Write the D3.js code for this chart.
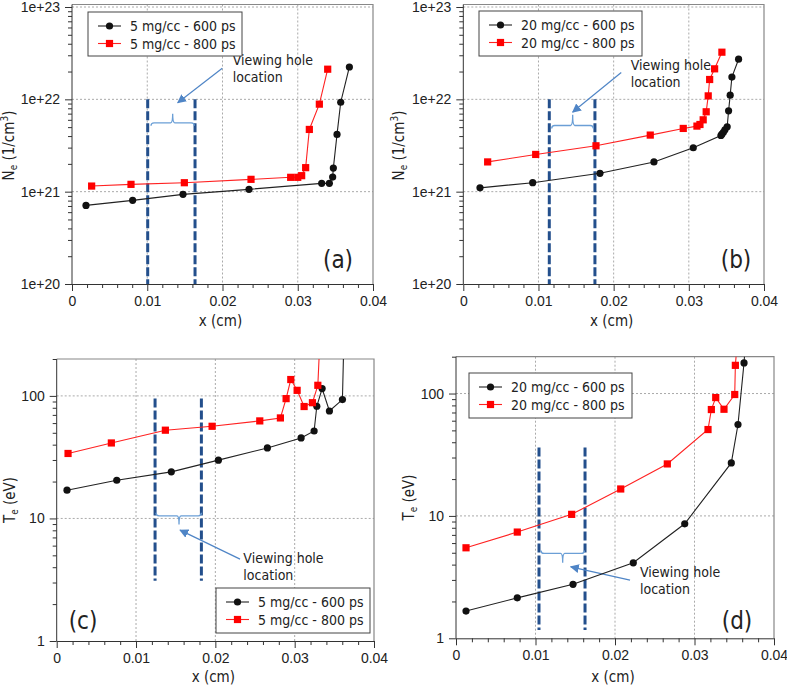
<!DOCTYPE html>
<html lang="en">
<head>
  <meta charset="UTF-8">
  <title></title>
  <style>
    html, body {
      margin: 0;
      background: #fff;
      overflow: hidden;
    }
    svg {
      display: block;
      font-family: "DejaVu Sans Condensed", "Liberation Sans", sans-serif;
    }
    .grid line { stroke: #aaa; stroke-dasharray: 2,2; }
    .axis path, .axis line { stroke: #333; }
    .axis text { fill: #222; font-size: 14px; font-family: inherit; }
  </style>
</head>
<body>
  <svg width="787" height="686"></svg>
</body>
<script src="https://d3js.org/d3.v7.min.js"></script>
<script type="text/javascript">
  const xTicks = [0, 0.01, 0.02, 0.03, 0.04]
  const neTicks = [1e20, 1e21, 1e22, 1e23]
  const teTicks = [1, 10, 100]

  // (a) electron density, 5 mg/cc
  const aX600 = [0.00186, 0.00806, 0.01475, 0.02352, 0.03318, 0.0342, 0.03464, 0.03473, 0.03522, 0.03571, 0.03686]
  const aNe600 = [7.1e20, 8.05e20, 9.35e20, 1.06e21, 1.23e21, 1.23e21, 1.44e21, 1.8e21, 4.17e21, 9.3e21, 2.24e22]
  const aX800 = [0.00261, 0.00784, 0.01493, 0.02379, 0.02906, 0.03, 0.03052, 0.03105, 0.03154, 0.03287, 0.03398]
  const aNe800 = [1.15e21, 1.2e21, 1.25e21, 1.36e21, 1.43e21, 1.43e21, 1.49e21, 1.82e21, 4.72e21, 8.87e21, 2.12e22]

  // (b) electron density, 20 mg/cc
  const bX600 = [0.00222, 0.00923, 0.01818, 0.02536, 0.03059, 0.03427, 0.0344, 0.0346, 0.0348, 0.0351, 0.03529, 0.0355, 0.03573, 0.03662]
  const bNe600 = [1.1e21, 1.25e21, 1.58e21, 2.1e21, 2.99e21, 4.06e21, 4.19e21, 4.4e21, 4.68e21, 5.05e21, 7.5e21, 1.11e22, 1.74e22, 2.72e22]
  const bX800 = [0.00324, 0.00963, 0.01765, 0.02487, 0.02926, 0.03108, 0.03148, 0.03191, 0.03231, 0.03258, 0.03277, 0.03343, 0.0344]
  const bNe800 = [2.1e21, 2.53e21, 3.14e21, 4.1e21, 4.84e21, 5.13e21, 5.34e21, 6.0e21, 7.33e21, 1.09e22, 1.64e22, 2.14e22, 3.24e22]

  // (c) electron temperature, 5 mg/cc (last point is off scale)
  const cX600 = [0.0013, 0.00757, 0.01445, 0.02038, 0.02656, 0.03081, 0.03245, 0.03279, 0.03346, 0.03438, 0.03602, 0.0364]
  const cTe600 = [17.0, 20.5, 24.0, 29.9, 37.6, 45.4, 51.7, 82.3, 114.7, 75.3, 93.3, 1000]
  const cX800 = [0.00143, 0.00689, 0.0137, 0.01959, 0.0256, 0.0282, 0.02892, 0.02951, 0.03031, 0.03119, 0.03224, 0.03292, 0.0334]
  const cTe800 = [33.9, 41.3, 52.5, 56.5, 62.5, 66.1, 95, 136, 111, 81.9, 88, 122, 600]

  // (d) electron temperature, 20 mg/cc (last point is off scale)
  const dX600 = [0.00126, 0.00771, 0.01472, 0.0223, 0.02877, 0.03463, 0.03547, 0.03623, 0.0368]
  const dTe600 = [1.67, 2.14, 2.76, 4.14, 8.62, 27.1, 55.8, 178, 600]
  const dX800 = [0.00126, 0.00771, 0.01455, 0.02072, 0.02658, 0.0317, 0.03212, 0.03267, 0.03371, 0.03506, 0.03514, 0.0356]
  const dTe800 = [5.49, 7.38, 10.3, 16.6, 26.6, 50.8, 74, 92.7, 74.4, 98.2, 170, 400]

  const panels = [
    { tag: '(a)', left: 72, right: 373, top: 7, bottom: 284, pad: 2.5, yDomain: [1e20, 1e23], yTicks: neTicks,
      yVar: 'N', yUnit: ' (1/cm', ySup: '3', yTail: ')', yLabelX: 14, xLabelY: 326,
      x600: aX600, y600: aNe600, x800: aX800, y800: aNe800, leg: '5 mg/cc',
      legBox: [88, 12, 154, 44], tagPos: [338, 268],
      hole: { x: [0.01006, 0.01635], y: [1e22, 1e20], bx: [0.0105, 0.01625, 0.01338], by: [5.57e21, 6.96e21],
              arrow: [0.01997, 2.17e22, 0.01405, 9.2e21], text: [0.02136, 2.36e22] } },
    { tag: '(b)', left: 463.3, right: 764, top: 7, bottom: 284, pad: 2.5, yDomain: [1e20, 1e23], yTicks: neTicks,
      yVar: 'N', yUnit: ' (1/cm', ySup: '3', yTail: ')', yLabelX: 404, xLabelY: 326,
      x600: bX600, y600: bNe600, x800: bX800, y800: bNe800, leg: '20 mg/cc',
      legBox: [479, 11, 163, 45], tagPos: [736, 268],
      hole: { x: [0.01144, 0.01751], y: [1e22, 1e20], bx: [0.01176, 0.01729, 0.01455], by: [5.21e21, 6.79e21],
              arrow: [0.02101, 1.95e22, 0.01455, 7.28e21], text: [0.02226, 2.08e22] } },
    { tag: '(c)', left: 56.7, right: 374, top: 359, bottom: 641, pad: 0, yDomain: [1, 200], yTicks: teTicks,
      yVar: 'T', yUnit: ' (eV)', ySup: '', yTail: '', yLabelX: 15, xLabelY: 682,
      x600: cX600, y600: cTe600, x800: cX800, y800: cTe800, leg: '5 mg/cc',
      legBox: [216, 588, 154, 45], tagPos: [83, 629],
      hole: { x: [0.0124, 0.01824], y: [95, 3.1], bx: [0.01252, 0.01824, 0.01542], by: [10.5, 8.93],
              arrow: [0.02311, 4.66, 0.01555, 8.03], text: [0.02353, 4.3] } },
    { tag: '(d)', left: 456, right: 774, top: 356.7, bottom: 638.3, pad: 0, yDomain: [1, 200], yTicks: teTicks,
      yVar: 'T', yUnit: ' (eV)', ySup: '', yTail: '', yLabelX: 414, xLabelY: 682,
      x600: dX600, y600: dTe600, x800: dX800, y800: dTe800, leg: '20 mg/cc',
      legBox: [469, 373, 163, 45], tagPos: [737, 629],
      hole: { x: [0.01044, 0.01623], y: [36.2, 1.17], bx: [0.01069, 0.01614, 0.01342], by: [4.94, 4.14],
              arrow: [0.02189, 2.99, 0.01443, 3.84], text: [0.02314, 3.15] } }
  ]

  const svg = d3.select('svg')

  svg.append('defs').append('marker')
    .attr('id', 'arrow')
    .attr('viewBox', '0 0 10 10')
    .attr('refX', 9).attr('refY', 5)
    .attr('markerWidth', 9).attr('markerHeight', 9)
    .attr('markerUnits', 'userSpaceOnUse')
    .attr('orient', 'auto')
    .append('path')
    .attr('d', 'M0,0 L10,5 L0,10 Z')
    .attr('fill', '#4f85c6')

  panels.forEach((p, i) => build(p, i))

  function build(p, i) {
    const g = svg.append('g')
    const x = d3.scaleLinear().domain([0, 0.04]).range([p.left, p.right])
    const y = d3.scaleLog().domain(p.yDomain).range([p.bottom, p.top])

    // minor tick values
    const xMinor = d3.range(0, 0.0401, 0.002).filter(v => Math.abs(v / 0.01 - Math.round(v / 0.01)) > 1e-6)
    const yMinor = []
    const lo = Math.log10(p.yDomain[0])
    for (let e = lo; e < Math.log10(p.yDomain[1]); e++) {
      for (let k = 2; k <= 9; k++) {
        const v = k * Math.pow(10, e)
        if (v <= p.yDomain[1] * 1.0001) yMinor.push(v)
      }
    }

    // grid
    const grid = g.append('g').attr('class', 'grid')
    grid.selectAll('.gx').data(xTicks.slice(1, -1)).enter().append('line')
      .attr('x1', d => x(d)).attr('x2', d => x(d))
      .attr('y1', p.top - p.pad).attr('y2', p.bottom)
    grid.selectAll('.gy').data(p.yTicks.filter(v => v > p.yDomain[0])).enter().append('line')
      .attr('x1', p.left).attr('x2', p.right)
      .attr('y1', d => y(d)).attr('y2', d => y(d))

    // frame top/right
    g.append('path')
      .attr('d', `M${p.left},${p.top - p.pad} H${p.right} V${p.bottom}`)
      .attr('fill', 'none').attr('stroke', '#888').attr('stroke-width', 1.2)

    // axes
    g.append('g').attr('class', 'axis')
      .attr('transform', `translate(0,${p.bottom})`)
      .call(d3.axisBottom(x).tickValues(xMinor).tickSize(4).tickFormat(''))
      .call(a => a.select('.domain').remove())
    g.append('g').attr('class', 'axis')
      .attr('transform', `translate(0,${p.bottom})`)
      .call(d3.axisBottom(x).tickValues(xTicks).tickSize(7).tickSizeOuter(0).tickPadding(5)
        .tickFormat(d => d === 0 ? '0' : d.toFixed(2)))
    g.append('g').attr('class', 'axis')
      .attr('transform', `translate(${p.left},0)`)
      .call(d3.axisLeft(y).tickValues(yMinor).tickSize(4).tickFormat(''))
      .call(a => a.select('.domain').remove())
    g.append('g').attr('class', 'axis')
      .attr('transform', `translate(${p.left},0)`)
      .call(d3.axisLeft(y).tickValues(p.yTicks).tickSize(7).tickSizeOuter(0).tickPadding(5)
        .tickFormat(d => p.yDomain[1] > 1e10 ? '1e+' + Math.round(Math.log10(d)) : d3.format('d')(d)))
      .call(a => a.select('.domain').attr('d', `M0,${p.bottom}V${p.top - p.pad}`))

    // axis titles
    g.append('text')
      .attr('x', (p.left + p.right) / 2 - 2).attr('y', p.xLabelY)
      .attr('text-anchor', 'middle').attr('font-size', 15).attr('fill', '#222')
      .text('x (cm)')
    const yl = g.append('text')
      .attr('transform', `translate(${p.yLabelX},${(p.top + p.bottom) / 2}) rotate(-90)`)
      .attr('text-anchor', 'middle').attr('font-size', 15).attr('fill', '#222')
    yl.append('tspan').text(p.yVar)
    yl.append('tspan').attr('font-size', 10).attr('dy', 3).text('e')
    yl.append('tspan').attr('dy', -3).text(p.yUnit)
    if (p.ySup) {
      yl.append('tspan').attr('font-size', 10).attr('dy', -6).text(p.ySup)
      yl.append('tspan').attr('dy', 6).text(p.yTail)
    }

    // viewing hole
    const h = p.hole
    g.selectAll('.hole').data(h.x).enter().append('line')
      .attr('x1', d => x(d)).attr('x2', d => x(d))
      .attr('y1', y(h.y[0])).attr('y2', y(h.y[1]))
      .attr('stroke', '#234f8c').attr('stroke-width', 3).attr('stroke-dasharray', '9,3')
    const xb1 = x(h.bx[0]), xb2 = x(h.bx[1]), xm = x(h.bx[2])
    const yb = y(h.by[0]), ys = y(h.by[1])
    const c = ys < yb ? 3 : -3
    g.append('path')
      .attr('d', `M${xb1},${yb + c} Q${xb1},${yb} ${xb1 + 3},${yb} H${xm - 2} Q${xm},${yb} ${xm},${ys}` +
        ` Q${xm},${yb} ${xm + 2},${yb} H${xb2 - 3} Q${xb2},${yb} ${xb2},${yb + c}`)
      .attr('fill', 'none').attr('stroke', '#6b9fd6').attr('stroke-width', 1.3)
    g.append('line')
      .attr('x1', x(h.arrow[0])).attr('y1', y(h.arrow[1]))
      .attr('x2', x(h.arrow[2])).attr('y2', y(h.arrow[3]))
      .attr('stroke', '#4f85c6').attr('stroke-width', 1.2)
      .attr('marker-end', 'url(#arrow)')
    const ht = g.append('text')
      .attr('x', x(h.text[0])).attr('y', y(h.text[1]))
      .attr('font-size', 14).attr('fill', '#222')
    ht.append('tspan').text('Viewing hole')
    ht.append('tspan').attr('x', x(h.text[0])).attr('dy', 17).text('location')

    // series
    const clipId = 'clip' + i
    g.append('clipPath').attr('id', clipId).append('rect')
      .attr('x', p.left).attr('y', p.top - p.pad)
      .attr('width', p.right - p.left).attr('height', p.bottom - p.top + p.pad)
    const series = [
      { xs: p.x600, ys: p.y600, color: '#111', line: '#222', shape: 'circle' },
      { xs: p.x800, ys: p.y800, color: '#f00', line: '#f22', shape: 'square' }
    ]
    const plot = g.append('g').attr('clip-path', `url(#${clipId})`)
    const line = d3.line().x(d => x(d[0])).y(d => y(d[1]))
    series.forEach(s => {
      const pts = s.xs.map((v, k) => [v, s.ys[k]])
      plot.append('path').datum(pts)
        .attr('d', line).attr('fill', 'none')
        .attr('stroke', s.line).attr('stroke-width', 1.1)
      if (s.shape === 'circle') {
        plot.selectAll(null).data(pts).enter().append('circle')
          .attr('cx', d => x(d[0])).attr('cy', d => y(d[1])).attr('r', 3.6)
          .attr('fill', s.color)
      } else {
        plot.selectAll(null).data(pts).enter().append('rect')
          .attr('x', d => x(d[0]) - 3.6).attr('y', d => y(d[1]) - 3.6)
          .attr('width', 7.2).attr('height', 7.2)
          .attr('fill', s.color)
      }
    })

    // legend
    const [lx, ly, lw, lh] = p.legBox
    const leg = g.append('g')
    leg.append('rect')
      .attr('x', lx).attr('y', ly).attr('width', lw).attr('height', lh)
      .attr('fill', '#fff').attr('stroke', '#444').attr('stroke-width', 1)
    series.forEach((s, k) => {
      const ry = ly + 14 + k * 17.5
      leg.append('line')
        .attr('x1', lx + 10).attr('x2', lx + 33).attr('y1', ry).attr('y2', ry)
        .attr('stroke', s.line).attr('stroke-width', 1.1)
      if (s.shape === 'circle') {
        leg.append('circle').attr('cx', lx + 21.5).attr('cy', ry).attr('r', 3.6).attr('fill', s.color)
      } else {
        leg.append('rect').attr('x', lx + 17.9).attr('y', ry - 3.6).attr('width', 7.2).attr('height', 7.2).attr('fill', s.color)
      }
      leg.append('text')
        .attr('x', lx + 42).attr('y', ry + 5)
        .attr('font-size', 14).attr('fill', '#222')
        .text(p.leg + ' - ' + (k === 0 ? '600' : '800') + ' ps')
    })

    // panel tag
    g.append('text')
      .attr('x', p.tagPos[0]).attr('y', p.tagPos[1])
      .attr('text-anchor', 'middle').attr('font-size', 24).attr('fill', '#222')
      .text(p.tag)
  }
</script>
</html>
